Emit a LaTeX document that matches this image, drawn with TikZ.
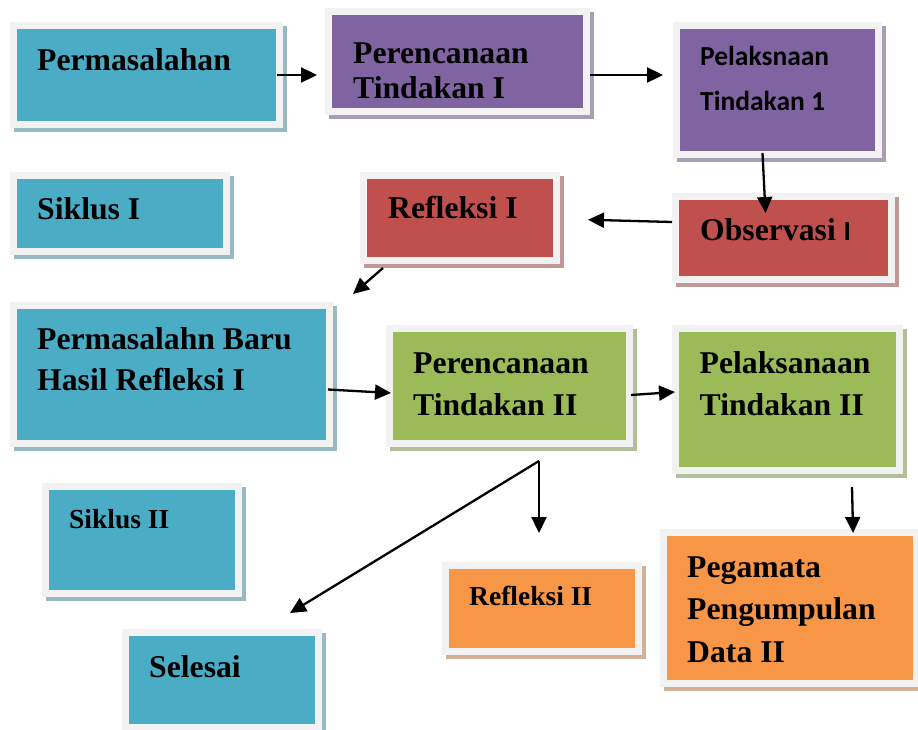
\documentclass[tikz,border=0pt]{standalone}
\usepackage{fontspec}
\setmainfont{Liberation Serif}
\newfontfamily\calibri{Carlito}
\usepackage{tikz}
\usetikzlibrary{arrows.meta,shadows}
\definecolor{KBiru}{HTML}{4BACC6}
\definecolor{KUngu}{HTML}{8064A2}
\definecolor{KMerah}{HTML}{C0504D}
\definecolor{KHijau}{HTML}{9BBB59}
\definecolor{KOranye}{HTML}{F79646}
\definecolor{KBingkai}{HTML}{F2F2F2}

\begin{document}
\begin{tikzpicture}[x=1pt,y=-1pt,
  kotak/.style={fill=KBingkai,inner sep=0pt,outer sep=0pt,anchor=north west,
    path picture={\fill[#1] ([shift={(7pt,-7pt)}]path picture bounding box.north west)
      rectangle ([shift={(-7pt,7pt)}]path picture bounding box.south east);},
    drop shadow={shadow xshift=4pt,shadow yshift=-4pt,opacity=1,fill=#1!35!lightgray}},
  ukuran/.style 2 args={minimum width=#1pt,minimum height=#2pt},
  teks/.style={anchor=base west,inner sep=0pt,align=left,
    font=\fontsize{31.7}{#1}\selectfont\bfseries},
  teks/.default=41,
  kecil/.style={anchor=base west,inner sep=0pt,
    font=\fontsize{27.5}{27.5}\selectfont\bfseries},
  panah/.style={-{Triangle[length=16pt,width=15pt]},line width=2.3pt}
]
  \path[use as bounding box,fill=white] (0,0) rectangle (918,729);

  % kotak-kotak siklus
  \node[kotak=KBiru,ukuran={273}{106}] (perm) at (10,22) {};
  \node[kotak=KUngu,ukuran={265}{107}] (renc1) at (325,8) {};
  \node[kotak=KUngu,ukuran={209}{136}] (lak1) at (673,22) {};
  \node[kotak=KMerah,ukuran={223}{90}] (obs1) at (672,193) {};
  \node[kotak=KBiru,ukuran={220}{83}] (sik1) at (10,172) {};
  \node[kotak=KMerah,ukuran={200}{92}] (ref1) at (360,172) {};
  \node[kotak=KBiru,ukuran={323}{145}] (baru) at (10,302) {};
  \node[kotak=KHijau,ukuran={247}{122}] (renc2) at (386,325) {};
  \node[kotak=KHijau,ukuran={231}{149}] (lak2) at (672,325) {};
  \node[kotak=KBiru,ukuran={200}{114}] (sik2) at (42,483) {};
  \node[kotak=KOranye,ukuran={200}{93}] (ref2) at (442,562) {};
  \node[kotak=KBiru,ukuran={200}{102}] (sel) at (122,629) {};
  \node[kotak=KOranye,ukuran={260}{158}] (peg) at (660,529) {};

  % tulisan (baris banyak: base = baris terakhir)
  \node[teks] (tPerm) at ([shift={(27,48)}]perm.north west) {Permasalahan};
  \node[teks=35] (tRenc1) at ([shift={(28,90)}]renc1.north west) {Perencanaan\\Tindakan I};
  \node[teks,font=\calibri\fontsize{27.5}{45}\selectfont\bfseries] (tLak1)
    at ([shift={(27,88)}]lak1.north west) {Pelaksnaan\\Tindakan 1};
  \node[teks] (tObs1) at ([shift={(28,47)}]obs1.north west)
    {Observasi {\calibri\fontsize{27.5}{27.5}\selectfont I}};
  \node[teks] (tSik1) at ([shift={(27,47)}]sik1.north west) {Siklus I};
  \node[teks] (tRef1) at ([shift={(28,46)}]ref1.north west) {Refleksi I};
  \node[teks=41] (tBaru) at ([shift={(27,88)}]baru.north west) {Permasalahn Baru\\Hasil Refleksi I};
  \node[teks=42] (tRenc2) at ([shift={(27,90)}]renc2.north west) {Perencanaan\\Tindakan II};
  \node[teks=42] (tLak2) at ([shift={(27.5,90)}]lak2.north west) {Pelaksanaan\\Tindakan II};
  \node[kecil] (tSik2) at ([shift={(27,45)}]sik2.north west) {Siklus II};
  \node[kecil] (tRef2) at ([shift={(27,43)}]ref2.north west) {Refleksi II};
  \node[teks] (tSel) at ([shift={(27,48)}]sel.north west) {Selesai};
  \node[teks=42.5] (tPeg) at ([shift={(27,133)}]peg.north west) {Pegamata\\Pengumpulan\\Data II};

  % panah
  \draw[panah,shorten >=8pt] ([xshift=-6pt]perm.east) -- (perm.east -| renc1.west);
  \draw[panah,shorten >=10pt] (renc1.east |- perm.east) -- (lak1.west |- perm.east);
  \draw[panah] ([xshift=-15pt,yshift=5pt]lak1.south) -- ([xshift=-18pt,yshift=-20pt]obs1.north);
  \draw[panah,shorten >=28pt] ([yshift=16pt]obs1.west) -- ([yshift=-1pt]ref1.east);
  \draw[panah] ([shift={(23,4)}]ref1.south west) -- ([shift={(20,-8)}]baru.north east);
  \draw[panah] ([shift={(-5,15)}]baru.east) -- ([shift={(5,7)}]renc2.west);
  \draw[panah] ([shift={(-2,9)}]renc2.east) -- ([shift={(3,-7.5)}]lak2.west);
  \coordinate (cabang) at ([shift={(29.5,14)}]renc2.south);
  \draw[panah,shorten >=29pt] (cabang) -- (cabang |- ref2.north);
  \draw[panah] (cabang) -- ([shift={(-32,-16)}]sel.north east);
  \draw[panah,shorten >=-4pt] ([xshift=64.5pt,yshift=-13pt]lak2.south) -- ([xshift=63pt]peg.north);
\end{tikzpicture}
\end{document}
